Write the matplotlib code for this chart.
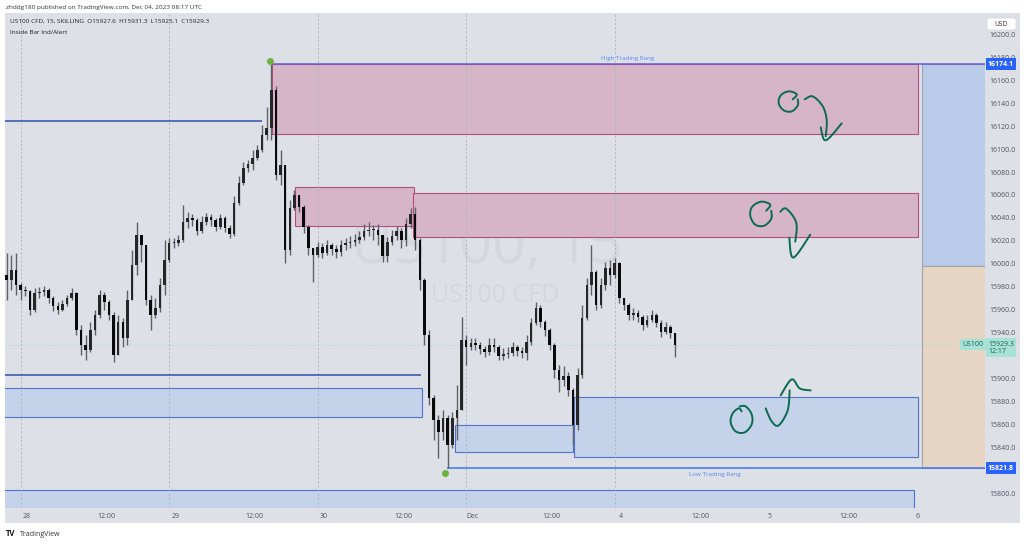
import numpy as np
import matplotlib.pyplot as plt
from matplotlib.patches import Rectangle, FancyBboxPatch
from matplotlib import transforms

plt.rcParams['font.family'] = ['Open Sans', 'DejaVu Sans']

# ---- data (US100 CFD, resampled to 45 min bars) ----
bars_per_day = 32
first_bar = -3          # bar index of first candle relative to Nov 28 00:00
first_open = 15990.0

closes = [
    15985.9, 15994.6, 15981.5, 15977.2, 15976.3, 15959.7, 15974.6, 15975.4, 15977.2, 15970.2,
    15963.2, 15959.7, 15965.0, 15970.2, 15974.6, 15942.3, 15929.2, 15924.9, 15942.3, 15955.4,
    15972.8, 15966.7, 15955.4, 15920.5, 15949.3, 15935.3, 15968.4, 15999.0, 16025.1, 16016.4,
    15968.4, 15955.4, 15961.5, 15981.5, 16003.3, 16018.1, 16018.1, 16020.7, 16036.4, 16039.9,
    16038.2, 16028.6, 16036.4, 16040.8, 16038.2, 16032.1, 16039.9, 16031.2, 16026.0, 16053.0,
    16070.4, 16083.5, 16087.0, 16092.2, 16099.2, 16112.2, 16118.3, 16151.5, 16077.4, 16086.1,
    16012.0, 16048.6, 16060.0, 16049.5, 16032.1, 16013.8, 16007.7, 16014.6, 16009.4, 16016.4,
    16012.9, 16010.3, 16016.4, 16018.1, 16019.0, 16020.7, 16023.4, 16028.6, 16029.5, 16029.5,
    16025.1, 16006.8, 16019.0, 16024.2, 16028.6, 16020.7, 16034.7, 16043.4, 16020.7, 15985.9,
    15937.9, 15883.0, 15863.9, 15853.4, 15865.6, 15842.1, 15865.6, 15872.6, 15933.6, 15927.5,
    15931.0, 15929.2, 15925.7, 15923.1, 15929.2, 15927.5, 15919.6, 15921.4, 15922.3, 15927.5,
    15924.0, 15922.3, 15931.8, 15948.4, 15961.5, 15949.3, 15942.3, 15929.2, 15907.4, 15898.7,
    15902.2, 15890.0, 15859.5, 15903.1, 15952.8, 15981.5, 15992.9, 15964.1, 15981.5, 15996.3,
    15990.2, 16000.7, 15970.2, 15964.1, 15955.4, 15957.1, 15953.6, 15946.7, 15951.0, 15955.4,
    15948.4, 15940.6, 15944.9, 15939.7, 15929.3,
]
highs = [
    16009.4, 16007.7, 16009.4, 15983.3, 15980.7, 15977.2, 15978.9, 15979.8, 15980.7, 15978.9,
    15971.9, 15966.7, 15968.4, 15972.8, 15978.9, 15975.4, 15946.7, 15937.9, 15949.3, 15959.7,
    15977.2, 15975.4, 15968.4, 15958.0, 15955.4, 15952.8, 15977.2, 16012.0, 16036.4, 16025.1,
    16016.4, 15972.8, 15970.2, 15987.6, 16020.7, 16022.5, 16022.5, 16025.1, 16051.2, 16045.1,
    16043.4, 16039.9, 16041.7, 16044.3, 16043.4, 16039.9, 16043.4, 16041.7, 16033.8, 16059.1,
    16076.5, 16088.7, 16090.5, 16099.2, 16103.5, 16121.0, 16136.7, 16174.1, 16155.0, 16099.2,
    16083.5, 16055.6, 16064.3, 16057.3, 16051.2, 16033.8, 16013.8, 16019.0, 16018.1, 16020.7,
    16018.1, 16016.4, 16020.7, 16022.5, 16024.2, 16026.0, 16028.6, 16034.7, 16036.4, 16033.8,
    16034.7, 16025.1, 16023.4, 16029.5, 16032.9, 16031.2, 16039.9, 16048.6, 16049.5, 16022.5,
    15987.6, 15942.3, 15885.7, 15868.2, 15872.6, 15868.2, 15870.8, 15894.4, 15953.6, 15937.9,
    15935.3, 15935.3, 15931.8, 15928.4, 15935.3, 15935.3, 15929.2, 15926.6, 15927.5, 15931.8,
    15929.2, 15927.5, 15937.9, 15952.8, 15966.7, 15964.1, 15951.0, 15944.0, 15931.0, 15911.8,
    15910.9, 15905.7, 15891.8, 15909.2, 15964.1, 15987.6, 16016.4, 15994.6, 15987.6, 16001.6,
    16003.3, 16005.1, 16001.6, 15970.2, 15965.8, 15961.5, 15959.7, 15955.4, 15955.4, 15959.7,
    15957.1, 15951.0, 15949.3, 15946.7, 15937.9,
]
lows = [
    15968.4, 15977.2, 15972.8, 15968.4, 15971.9, 15955.4, 15958.0, 15970.2, 15971.9, 15965.8,
    15958.9, 15956.2, 15958.9, 15963.2, 15968.4, 15937.9, 15920.5, 15916.2, 15923.1, 15937.9,
    15952.8, 15959.7, 15951.0, 15914.4, 15924.9, 15927.5, 15929.2, 15968.4, 15990.2, 16001.6,
    15964.1, 15942.3, 15952.8, 15958.0, 15972.8, 16001.6, 16013.8, 16015.5, 16019.0, 16031.2,
    16032.9, 16025.1, 16026.8, 16033.8, 16032.9, 16028.6, 16030.3, 16027.7, 16022.5, 16024.2,
    16051.2, 16068.7, 16080.0, 16081.7, 16090.5, 16097.4, 16107.9, 16107.9, 16073.0, 16068.7,
    16000.7, 16007.7, 16046.9, 16045.1, 16026.8, 16007.7, 15984.1, 16005.9, 16005.1, 16007.7,
    16007.7, 16005.1, 16006.8, 16012.0, 16013.8, 16015.5, 16018.1, 16020.7, 16024.2, 16020.7,
    16016.4, 16001.6, 16001.6, 16016.4, 16020.7, 16013.8, 16015.5, 16031.2, 16012.0, 15977.2,
    15929.2, 15876.9, 15846.4, 15830.8, 15846.4, 15821.8, 15839.5, 15846.4, 15885.7, 15911.8,
    15924.9, 15924.9, 15921.4, 15918.8, 15920.5, 15923.1, 15916.2, 15916.2, 15917.9, 15919.6,
    15919.6, 15917.9, 15916.2, 15929.2, 15946.7, 15944.9, 15937.1, 15924.9, 15900.5, 15888.3,
    15893.5, 15884.8, 15842.1, 15855.2, 15900.5, 15951.0, 15972.8, 15959.7, 15961.5, 15977.2,
    15981.5, 15987.6, 15965.8, 15959.7, 15951.0, 15951.0, 15949.3, 15942.3, 15944.9, 15949.3,
    15944.9, 15936.2, 15938.8, 15935.3, 15918.8,
]

time_labels = ['28', '12:00', '29', '12:00', '30', '12:00', 'Dec', '12:00',
               '4', '12:00', '5', '12:00', '6']
session_days = [0, 1, 2, 3, 4]
# 15820 and 15920 sit under the price-label boxes in the reference
price_ticks = [v for v in range(15800, 16201, 20) if v not in (15820, 15920)]

# drawn zones: (day start, day end, price low, price high)
supply_zones = [(1.692, 6.040, 16113.1, 16174.1),
                (1.847, 2.648, 16033.2, 16067.2),
                (2.640, 6.040, 16023.6, 16061.4)]
demand_zones = [(-0.2, 2.700, 15866.8, 15891.5),
                (2.925, 3.717, 15835.7, 15859.5),
                (3.726, 6.040, 15831.9, 15883.9),
                (-0.2, 6.018, 15760.0, 15802.9)]
level_lines = [(16124.5, -0.2, 1.627), (15903.1, -0.2, 2.698)]
range_high, range_high_start = 16174.1, 1.692
range_low, range_low_start = 15821.8, 2.869
position_start, position_entry = 6.072, 15998.4
swing_points = [(1.682, 16176.8), (2.857, 15817.7)]
last_price = 15929.3

BG = '#dde0e7'
W, H = 1024, 544


def fx(px):
    return px / W


def fy(py):
    return 1 - py / H


fig = plt.figure(figsize=(10.24, 5.44), dpi=100)
fig.patch.set_facecolor('white')
fig.add_artist(Rectangle((fx(5), fy(523)), fx(1020) - fx(5), fy(13) - fy(523),
                         transform=fig.transFigure, fc=BG, ec='none', zorder=-10))

ax = fig.add_axes([fx(5), fy(508), (985 - 5) / W, (508 - 13) / H])
ax.set_facecolor(BG)
for s in ax.spines.values():
    s.set_visible(False)
ax.set_xlim(-0.1057, 6.4936)
ax.set_ylim(15787.2, 16218.6)

# watermark
ax.text(0.492, 0.495, 'US100, 15', transform=ax.transAxes, ha='center', va='baseline',
        fontsize=42, color='#d4d7df', zorder=0)
ax.text(0.5, 0.416, 'US100 CFD', transform=ax.transAxes, ha='center', va='baseline',
        fontsize=18, color='#d4d7df', zorder=0)

# zones
for x0, x1, p0, p1 in supply_zones:
    ax.add_patch(Rectangle((x0, p0), x1 - x0, p1 - p0, fc='#d7b5c9', ec='#b34f7e', lw=0.8, zorder=1))
for x0, x1, p0, p1 in demand_zones:
    ax.add_patch(Rectangle((x0, p0), x1 - x0, p1 - p0, fc='#c4d3ea', ec='#4f72cf', lw=0.8, zorder=1))

# long/short position tool on the right
ax.add_patch(Rectangle((position_start, position_entry), 1.0, range_high - position_entry,
                       fc='#b9cbe9', ec='#9aa3b8', lw=0.8, zorder=1))
ax.add_patch(Rectangle((position_start, range_low), 1.0, position_entry - range_low,
                       fc='#e6d5c3', ec='#a9a3a0', lw=0.8, zorder=1))

# session breaks
for d in session_days:
    ax.axvline(d, color='#adb1bb', lw=0.6, ls=(0, (2.5, 2.5)), zorder=2)

# levels
for p, x0, x1 in level_lines:
    ax.hlines(p, x0, x1, color='#3f5cae', lw=1.2, zorder=2)
ax.hlines(range_high, range_high_start, 7, color='#6a5acd', lw=1.1, zorder=3)
ax.hlines(range_low, range_low_start, 7, color='#3d74ee', lw=1.1, zorder=3)
ax.axhline(last_price, color='#9fd8cc', lw=0.6, ls=(0, (1, 2)), zorder=2)
ax.text(4.086, range_high + 2.5, 'High Trading Rang', ha='center', va='bottom',
        fontsize=4.5, color='#5b86f0', zorder=4)
ax.text(4.675, range_low - 3, 'Low Trading Rang', ha='center', va='top',
        fontsize=4.5, color='#5b86f0', zorder=4)

# candles
closes_a = np.array(closes)
opens_a = np.concatenate([[first_open], closes_a[:-1]])
highs_a = np.maximum(np.array(highs), np.maximum(opens_a, closes_a))
lows_a = np.minimum(np.array(lows), np.minimum(opens_a, closes_a))
t = (np.arange(len(closes_a)) + first_bar) / bars_per_day
up = closes_a >= opens_a
ax.vlines(t, lows_a, highs_a, color='#5f6169', lw=1.0, zorder=5)
body_lo = np.minimum(opens_a, closes_a)
body_h = np.maximum(np.abs(closes_a - opens_a), 0.7)
ax.bar(t[up], body_h[up], bottom=body_lo[up], width=0.55 / bars_per_day,
       color='#262626', lw=0, zorder=6)
ax.bar(t[~up], body_h[~up], bottom=body_lo[~up], width=0.55 / bars_per_day,
       color='#0a0a0a', lw=0, zorder=6)

for d, p in swing_points:
    ax.plot(d, p, 'o', ms=5, color='#6db33f', mec='none', zorder=7)


# hand drawn notes
def smooth(pts, n=8):
    p = np.asarray(pts, float)
    p = np.vstack([p[0], p, p[-1]])
    out = []
    for i in range(1, len(p) - 2):
        p0, p1, p2, p3 = p[i - 1], p[i], p[i + 1], p[i + 2]
        for s in np.linspace(0, 1, n, endpoint=False):
            out.append(0.5 * (2 * p1 + (p2 - p0) * s + (2 * p0 - 5 * p1 + 4 * p2 - p3) * s ** 2
                              + (3 * p1 - p0 - 3 * p2 + p3) * s ** 3))
    out.append(p[-2])
    return np.array(out)


notes = [
    ((5.172, 16141.6), [
        [(4, -2), (8, -7), (0, -10), (-8, -6), (-10, 2), (-5, 9), (3, 10), (9, 4), (9, -2)],
        [(16, -2), (24, -5), (34, 5), (38, 19), (37, 35)],
        [(32, 26), (37, 39), (53, 22)]]),
    ((4.987, 16043.7), [
        [(5, -3), (9, -9), (0, -12), (-9, -7), (-11, 2), (-6, 11), (3, 12), (10, 5), (10, -3)],
        [(19, -2), (25, -5), (35, 9), (34, 28)],
        [(28, 24), (32, 44), (49, 21)]]),
    ((4.855, 15865.3), [
        [(0, -7), (-3, -10), (-9, -5), (-11, 4), (-6, 13), (3, 14), (10, 6), (10, -4), (4, -12),
         (-2, -12)],
        [(24, -10), (30, 3), (37, 7), (46, -8), (48, -28)],
        [(39, -23), (50, -39), (58, -30), (69, -28)]]),
]
for (d, p), strokes in notes:
    tr = transforms.ScaledTranslation(d, p, ax.transData)
    for st in strokes:
        xy = smooth(st)
        ax.plot(xy[:, 0], -xy[:, 1], color='#0c6b4f', lw=1.4, solid_capstyle='round',
                transform=tr, zorder=8)

# price scale
ax.yaxis.tick_right()
ax.set_yticks(price_ticks)
ax.set_yticklabels([f'{v:.1f}' for v in price_ticks])
ax.tick_params(axis='y', length=0, pad=3.5, labelsize=5, labelcolor='#50535e')
ax.set_xticks([])

blend = transforms.blended_transform_factory(ax.transAxes, ax.transData)
for p in (range_high, range_low):
    ax.text(1.003, p, f'{p:.1f}', transform=blend, ha='left', va='center', fontsize=5,
            fontweight='bold', color='white', clip_on=False, zorder=10,
            bbox=dict(boxstyle='square,pad=0.35', fc='#2962ff', ec='none'))
ax.text(1.003, last_price - 2.5, f'{last_price:.1f}\n12:17', transform=blend, ha='left',
        va='center', fontsize=5, color='#1f5d55', linespacing=1.1, clip_on=False, zorder=10,
        bbox=dict(boxstyle='square,pad=0.35', fc='#a7e2d6', ec='none'))
ax.text(0.9985, last_price + 0.5, 'US100', transform=blend, ha='right', va='center',
        fontsize=5, color='#1f5d55', clip_on=False, zorder=10,
        bbox=dict(boxstyle='square,pad=0.3', fc='#a7e2d6', ec='none'))

# time scale
tb = transforms.blended_transform_factory(ax.transData, ax.transAxes)
for k, lab in enumerate(time_labels):
    off = 0.04 if k % 2 == 0 else 0.077
    ax.text(k * 0.5 + off, -0.0165, lab, transform=tb, ha='center', va='center',
            fontsize=5, color='#50535e', clip_on=False)

# USD box
fig.add_artist(FancyBboxPatch((fx(987), fy(30)), fx(1016) - fx(987), fy(18) - fy(30),
                              boxstyle='round,pad=0,rounding_size=0.003',
                              transform=fig.transFigure, fc='white', ec='#d0d3da', lw=0.5, zorder=5))
fig.text(fx(1001), fy(24), 'USD', ha='center', va='center', fontsize=4.8, color='#333333', zorder=6)

# header / legend
fig.text(fx(6), fy(7), 'zhddg180 published on TradingView.com, Dec 04, 2023 08:17 UTC',
         ha='left', va='center', fontsize=4.6, color='#333333')
fig.text(fx(10), fy(21), 'US100 CFD, 15, SKILLING  O15927.6  H15931.3  L15925.1  C15929.3',
         ha='left', va='center', fontsize=4.6, color='#222222')
fig.text(fx(10), fy(32), 'Inside Bar Ind/Alert', ha='left', va='center', fontsize=4.6, color='#222222')

# footer logo
fig.text(fx(6), fy(534), 'TV', ha='left', va='center', fontsize=5.5, fontweight='bold', color='#131722')
fig.text(fx(20), fy(534), 'TradingView', ha='left', va='center', fontsize=5, color='#333333')

fig.savefig('out.png', dpi=100, facecolor='white')
